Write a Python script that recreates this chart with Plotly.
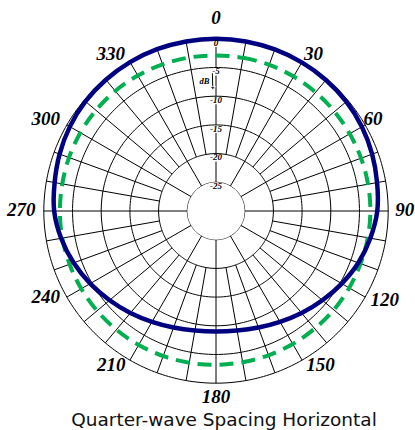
import plotly.graph_objects as go

# ---- data ----
angles_deg = list(range(0, 361, 10))
quarter_wave_db = [0.0, 0.0, -0.05, -0.1, -0.2, -0.35, -0.65, -1.05, -1.5, -1.9,
                   -2.7, -3.6, -4.7, -5.8, -6.8, -7.7, -8.4, -8.85, -9.0,
                   -8.85, -8.4, -7.7, -6.8, -5.8, -4.7, -3.6, -2.6, -1.8,
                   -1.45, -1.0, -0.6, -0.3, -0.15, -0.05, 0.0, 0.0, 0.0]
reference_db = [-2.9, -2.9, -2.9, -2.95, -3.0, -3.05, -3.1, -3.1, -3.1, -3.1,
                -3.15, -3.2, -3.2, -3.2, -3.25, -3.25, -3.25, -3.25, -3.2,
                -3.15, -3.1, -3.05, -3.0, -2.95, -2.9, -2.85, -2.8, -2.8,
                -2.8, -2.75, -2.7, -2.7, -2.7, -2.75, -2.8, -2.85, -2.9]
ring_db = [0, -5, -10, -15, -20, -25]
ring_labels = ["0", "-5", "-10", "-15", "-20", "-25"]
angle_ticks = list(range(0, 360, 30))
angle_labels = [str(a) for a in angle_ticks]
title_text = "Quarter-wave Spacing Horizontal"

# ---- layout constants (positions / styles) ----
PX_PER_DB = 172 / 30.0          # 0 dB ring radius 172 px, centre = -30 dB
R_MIN, R_MAX = -25, 4.5
HOLE = 5 / (R_MAX + 30)
label_dist_px = [192, 184, 181, 188.5, 191, 186.5, 187, 187, 191, 194.5, 192.5, 188]
label_angle_shift = [0, 2, 0, 0, -2, -4, 0, 4, 3, 0, -2, -4]
SERIF_BI = dict(family="Liberation Serif", color="black", weight="bold", style="italic")

fig = go.Figure()

# rings
ring_t, ring_r = [], []
for v in ring_db:
    ring_t += list(range(0, 361)) + [None]
    ring_r += [v] * 361 + [None]
fig.add_trace(go.Scatterpolar(theta=ring_t, r=ring_r, mode="lines",
                              line=dict(color="black", width=1),
                              hoverinfo="skip", showlegend=False))

# spokes: every 30 deg from -25 ring, every 10 deg from -20 ring;
# the 0 deg spoke is interrupted where the dB labels sit
sp_t, sp_r = [], []
for a in range(10, 360, 10):
    start = -25 if a % 30 == 0 else -20
    sp_t += [a, a, None]
    sp_r += [start, 0, None]
for v in ring_db[:-1]:
    sp_t += [0, 0, None]
    sp_r += [v - 5, v - 1.4, None]
fig.add_trace(go.Scatterpolar(theta=sp_t, r=sp_r, mode="lines",
                              line=dict(color="black", width=1),
                              hoverinfo="skip", showlegend=False))

# series
fig.add_trace(go.Scatterpolar(theta=angles_deg, r=reference_db, mode="lines",
                              line=dict(color="#00b050", width=4, dash="14px,8px",
                                        shape="spline"),
                              showlegend=False))
fig.add_trace(go.Scatterpolar(theta=angles_deg, r=quarter_wave_db, mode="lines",
                              line=dict(color="#000080", width=4.5, shape="spline"),
                              showlegend=False))

# radial labels
fig.add_trace(go.Scatterpolar(theta=[0] * len(ring_db), r=ring_db,
                              mode="text", text=ring_labels, textposition="bottom center",
                              textfont=dict(size=9, **SERIF_BI),
                              hoverinfo="skip", showlegend=False, cliponaxis=False))
# dB label and arrow
fig.add_trace(go.Scatterpolar(theta=[-5.1], r=[-7.4], mode="text", text=["dB"],
                              textposition="middle center",
                              textfont=dict(size=8.5, **SERIF_BI),
                              hoverinfo="skip", showlegend=False))
fig.add_trace(go.Scatterpolar(theta=[-1.5, -1.5], r=[-6.0, -8.5], mode="lines+markers",
                              line=dict(color="black", width=1),
                              marker=dict(symbol="triangle-down", size=[0, 5], color="black"),
                              hoverinfo="skip", showlegend=False))

# angular labels
fig.add_trace(go.Scatterpolar(
    theta=[a + s for a, s in zip(angle_ticks, label_angle_shift)],
    r=[d / PX_PER_DB - 30 for d in label_dist_px],
    mode="text", text=angle_labels, textposition="middle center",
    textfont=dict(size=19, **SERIF_BI),
    hoverinfo="skip", showlegend=False, cliponaxis=False))

fig.update_layout(
    width=415, height=430,
    margin=dict(l=18, r=1, t=13, b=21),
    paper_bgcolor="white",
    showlegend=False,
    polar=dict(
        domain=dict(x=[0, 1], y=[0, 1]),
        hole=HOLE,
        bgcolor="white",
        radialaxis=dict(range=[R_MIN, R_MAX], showgrid=False, showline=False,
                        showticklabels=False, ticks=""),
        angularaxis=dict(rotation=90, direction="clockwise",
                         showgrid=False, showline=False, ticks="",
                         showticklabels=False),
    ),
    title=dict(text=title_text, x=224 / 415, xanchor="center", xref="container",
               y=1 - 420 / 430, yanchor="middle", yref="container",
               font=dict(family="DejaVu Sans", size=18.5, color="#111111")),
)

fig.write_html("out.html")
